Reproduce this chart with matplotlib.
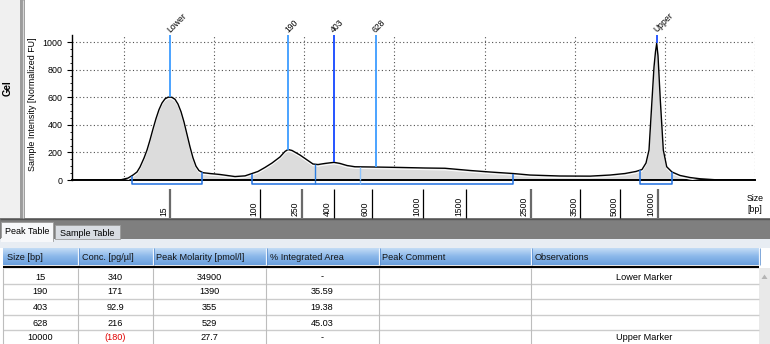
import numpy as np
import matplotlib
matplotlib.use("Agg")
import matplotlib.pyplot as plt
import matplotlib.transforms as mtransforms
from matplotlib.patches import Rectangle, Polygon
from matplotlib.colors import LinearSegmentedColormap

plt.rcParams["font.family"] = ["Liberation Sans", "DejaVu Sans"]

W, H = 770, 344

# electropherogram trace: run position (arbitrary units) vs intensity [normalized FU]
TRACE_POS = [0, 48, 52, 56, 61, 65, 68, 72, 75, 78, 81, 84, 87, 90, 93, 96, 98, 100, 103,
             106, 109, 112, 115, 118, 121, 124, 127, 131, 138, 148, 163, 173, 180, 186, 193,
             200, 208, 213, 216, 220, 228, 236, 241, 246, 253, 262, 268, 275, 283, 303, 328,
             353, 373, 398, 418, 441, 458, 488, 518, 538, 553, 564, 570, 574, 577, 580, 582,
             583.5, 584.7, 586, 588.3, 591.3, 594.7, 600, 608, 618, 628, 643, 653, 683]
TRACE_FU = [0, 0, 7, 14, 36, 58, 94, 159, 217, 290, 370, 445, 510, 558, 588, 600, 601, 599, 585,
            550, 495, 420, 330, 240, 160, 100, 68, 53, 47, 40, 25, 30, 47, 62, 91,
            123, 167, 207, 221, 214, 181, 141, 116, 112, 120, 128, 120, 105, 96, 94, 91,
            87, 85, 69, 58, 47, 36, 29, 28, 36, 47, 62, 76, 123, 217, 580, 819,
            930, 990, 900, 580, 217, 96, 58, 33, 18, 9, 2, 0, 0]

PEAK_NAMES = ["Lower", "190", "403", "628", "Upper"]
PEAK_POS = [98, 216, 262, 303.7, 584.7]
PEAK_COLORS = ["#3d9cff", "#3d9cff", "#1446ff", "#3d9cff", "#1a4cff"]

LADDER_BP = [15, 100, 250, 400, 600, 1000, 1500, 2500, 3500, 5000, 10000]
LADDER_POS = [98, 188, 229.7, 262.3, 299.7, 351.3, 393.7, 458.7, 508.3, 548.3, 585.7]
LADDER_HEAVY = [15, 250, 2500, 10000]

REGIONS = [(60, 130), (180, 441), (568, 600)]
REGION_CUTS = [243, 288]
CUT_COLORS = ["#2b7de0", "#8cc4ff"]

GRID_POS = [52, 142, 232, 322, 413, 503, 593, 683]
Y_TICKS = [0, 200, 400, 600, 800, 1000]

# peak table
HEADERS = ["Size [bp]", "Conc. [pg/µl]", "Peak Molarity [pmol/l]", "% Integrated Area",
           "Peak Comment", "Observations"]
SIZE_BP = ["15", "190", "403", "628", "10000"]
CONC = ["340", "171", "92.9", "216", "(180)"]
MOLARITY = ["34900", "1390", "355", "529", "27.7"]
AREA = ["-", "35.59", "19.38", "45.03", "-"]
OBS = ["Lower Marker", "", "", "", "Upper Marker"]
CONC_RED = [False, False, False, False, True]

COL_EDGES = [3, 77.5, 152.5, 265.5, 378.5, 530.5, 758.5]
ROW_Y = [277, 292, 307, 323, 338]
ROW_LINES = [283.5, 299, 314.5, 329.5]

BRACKET_C = "#2070e0"

fig = plt.figure(figsize=(W / 100, H / 100), dpi=100)
ui = fig.add_axes([0, 0, 1, 1])
ui.axis("off")

# ---------- window chrome ----------
ui.add_patch(Rectangle((0, 0), 20, 218, fc="#f0f0f0", ec="none"))
ui.add_patch(Rectangle((20, 0), 5, 218, fc="#9c9c9c", ec="none"))
ui.vlines(22.5, 0, 218, color="#d6d6d6", lw=0.8)
ui.text(8, 88, "Gel", rotation=90, ha="center", va="center", fontsize=7, weight="bold")

ui.add_patch(Rectangle((0, 218), W, 21, fc="#7f7f7f", ec="none"))
ui.hlines(218.5, 0, W, color="#555555", lw=1)
ui.add_patch(Rectangle((0, 239), W, 9, fc="#e8edf3", ec="none"))
ui.add_patch(Rectangle((1, 222), 52, 19, fc="#f7f8fa", ec="#9a9a9a", lw=0.6))
ui.add_patch(Rectangle((1.3, 238), 51.4, 4, fc="#f7f8fa", ec="none"))
ui.text(5, 232, "Peak Table", ha="left", va="center", fontsize=6.5)
ui.add_patch(Rectangle((55, 225), 65, 14, fc="#d8dce2", ec="#9a9a9a", lw=0.6))
ui.text(60, 233, "Sample Table", ha="left", va="center", fontsize=6.5)

# table header with gradient
cmap = LinearSegmentedColormap.from_list("hdr", ["#c2dbf5", "#8ab7ea", "#6a9fdd"])
ui.imshow(np.linspace(0, 1, 24)[:, None], cmap=cmap, aspect="auto", origin="upper",
          extent=[COL_EDGES[0], COL_EDGES[-1], 265, 248], interpolation="bilinear")
for xe in COL_EDGES[1:]:
    ui.vlines(xe, 248, 265, color="#eef5fd", lw=0.9)
    ui.vlines(xe + 1, 248, 265, color="#4f86cc", lw=0.5)
for xe, txt in zip(COL_EDGES[:-1], HEADERS):
    ui.text(xe + 4, 257, txt, ha="left", va="center", fontsize=6.6, color="#141414")
ui.hlines(266.7, COL_EDGES[0], COL_EDGES[-1], color="black", lw=1.6)

# table body
for yl in ROW_LINES:
    ui.hlines(yl, COL_EDGES[0], COL_EDGES[-1], color="#cccccc", lw=1)
for xe in COL_EDGES[:-1]:
    ui.vlines(xe, 268, H, color="#bdbdbd", lw=0.8)
ui.add_patch(Rectangle((759, 268), 11, H - 268, fc="#e9e9e9", ec="none"))
ui.add_patch(Polygon([[761.5, 279], [767.5, 279], [764.5, 274.5]], fc="#b4b4b4", ec="none"))

centers = [(COL_EDGES[i] + COL_EDGES[i + 1]) / 2 for i in range(len(COL_EDGES) - 1)]
for i, yy in enumerate(ROW_Y):
    ui.text(centers[0], yy, SIZE_BP[i], ha="center", va="center", fontsize=6.6)
    ui.text(centers[1], yy, CONC[i], ha="center", va="center", fontsize=6.6,
            color="#e00000" if CONC_RED[i] else "black")
    ui.text(centers[2], yy, MOLARITY[i], ha="center", va="center", fontsize=6.6)
    ui.text(centers[3], yy, AREA[i], ha="center", va="center", fontsize=6.6)
    ui.text(centers[5], yy, OBS[i], ha="center", va="center", fontsize=6.6)

ui.set_xlim(0, W)
ui.set_ylim(H, 0)

# ---------- electropherogram ----------
X0, X1, YT, YB = 72, 755, 35, 180
ax = fig.add_axes([X0 / W, 1 - YB / H, (X1 - X0) / W, (YB - YT) / H])
YTOP = 1000 * (YB - YT) / (YB - 42)
ax.set_xlim(0, X1 - X0)
ax.set_ylim(0, YTOP)
ax.patch.set_alpha(0)

T = mtransforms.blended_transform_factory(ax.transData, ui.transData)

pos = np.array(TRACE_POS, dtype=float)
fu = np.array(TRACE_FU, dtype=float)

dots = (0, (1, 2.2))
ax.hlines(Y_TICKS[1:], 0, X1 - X0, colors="#505050", linestyles=dots, lw=0.8, zorder=1)
ax.vlines(GRID_POS, 0, YTOP, colors="#505050", linestyles=dots, lw=0.8, zorder=1)

ax.fill_between(pos, fu, color="#dcdcdc", lw=0, zorder=2)
shift = ax.transData + mtransforms.ScaledTranslation(0, -1.2 / 72, fig.dpi_scale_trans)
ax.plot(pos, fu, color="white", lw=0.7, transform=shift, zorder=3)
ax.plot(pos, fu, color="black", lw=1.0, zorder=4)

# integration regions
for a, b in REGIONS:
    ax.vlines([a, b], 0, np.interp([a, b], pos, fu), color=BRACKET_C, lw=1.1, zorder=5)
    ax.plot([a, a, b, b], [YB, 184, 184, YB], color=BRACKET_C, lw=1.1, transform=T,
            clip_on=False, zorder=5)
for c, col in zip(REGION_CUTS, CUT_COLORS):
    ax.vlines(c, 0, np.interp(c, pos, fu), color=col, lw=1.0, zorder=5)
    ax.vlines(c, YB, 184, color=col, lw=1.0, transform=T, clip_on=False, zorder=5)

# peak markers
lab_tr = mtransforms.offset_copy(T, fig=fig, x=-1.5, y=0, units="dots")
for name, p, col in zip(PEAK_NAMES, PEAK_POS, PEAK_COLORS):
    ax.vlines(p, np.interp(p, pos, fu), YTOP, color=col, lw=1.3, zorder=6, clip_on=False)
    ax.text(p, 31, name, transform=lab_tr, rotation=45, rotation_mode="anchor",
            ha="left", va="center", fontsize=6.2, clip_on=False)

# size ladder
tick_tr = mtransforms.offset_copy(T, fig=fig, x=-2, y=0, units="dots")
for bp, p in zip(LADDER_BP, LADDER_POS):
    heavy = bp in LADDER_HEAVY
    ax.vlines(p, 189, 218, color="#6a6a6a" if heavy else "black", lw=1.6 if heavy else 0.9,
              transform=T, clip_on=False)
    ax.text(p, 216, str(bp), transform=tick_tr, rotation=90, rotation_mode="anchor",
            ha="left", va="bottom", fontsize=6.2, clip_on=False)
ui.text(755, 204, "Size\n[bp]", ha="center", va="center", fontsize=6.3, linespacing=1.3)

# axes styling
for sp in ("top", "right"):
    ax.spines[sp].set_visible(False)
ax.spines["left"].set_linewidth(1.0)
ax.spines["bottom"].set_linewidth(1.4)
ax.set_xticks([])
ax.set_yticks(Y_TICKS)
ax.set_yticks(np.arange(0, 1001, 50), minor=True)
ax.tick_params(axis="y", which="major", length=3.6, width=0.8, labelsize=6.4, pad=3.4)
ax.tick_params(axis="y", which="minor", length=1.8, width=0.6)
ax.set_ylabel("Sample Intensity [Normalized FU]", fontsize=6.4)
ax.yaxis.set_label_coords((37 - X0) / (X1 - X0), (YB - 104) / (YB - YT))

fig.savefig("out.png", dpi=100)
